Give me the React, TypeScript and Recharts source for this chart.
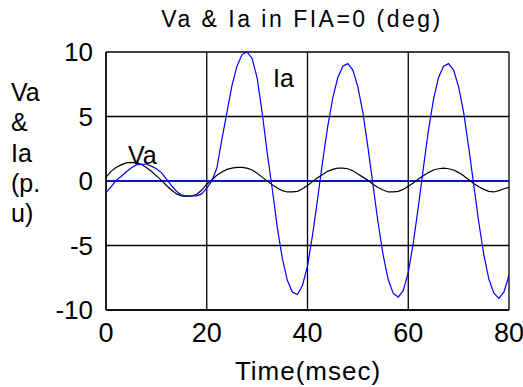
import React from 'react';
import { LineChart, Line, XAxis, YAxis, CartesianGrid, ReferenceLine } from 'recharts';

const TIME = [
  0, 1, 2, 3, 4, 5, 6, 7, 8, 9, 10, 11, 12, 13, 14, 15, 16, 17, 18, 19, 20,
  21, 22, 23, 24, 25, 26, 27, 28, 29, 30, 31, 32, 33, 34, 35, 36, 37, 38, 39, 40,
  41, 42, 43, 44, 45, 46, 47, 48, 49, 50, 51, 52, 53, 54, 55, 56, 57, 58, 59, 60,
  61, 62, 63, 64, 65, 66, 67, 68, 69, 70, 71, 72, 73, 74, 75, 76, 77, 78, 79, 80,
];

const VA = [
  0.3, 0.75, 1.05, 1.25, 1.4, 1.45, 1.4, 1.3, 1.05, 0.75, 0.4, 0.05, -0.35, -0.7, -1.0, -1.15, -1.2, -1.15, -1.05, -0.7, -0.25,
  0.1, 0.45, 0.7, 0.9, 1.0, 1.05, 1.05, 1.0, 0.85, 0.6, 0.3, 0.0, -0.3, -0.55, -0.75, -0.85, -0.85, -0.8, -0.6, -0.35,
  -0.05, 0.25, 0.5, 0.75, 0.9, 1.0, 1.0, 0.95, 0.8, 0.55, 0.3, 0.05, -0.25, -0.5, -0.7, -0.85, -0.85, -0.8, -0.65, -0.4,
  -0.15, 0.15, 0.4, 0.65, 0.85, 0.95, 1.0, 0.95, 0.85, 0.65, 0.4, 0.1, -0.2, -0.45, -0.65, -0.8, -0.85, -0.75, -0.6, -0.5,
];

const IA = [
  -0.9, -0.45, 0.05, 0.35, 0.7, 1.0, 1.25, 1.3, 1.3, 1.15, 0.95, 0.65, 0.15, -0.35, -0.8, -1.1, -1.15, -1.15, -1.15, -1.0, -0.55,
  0.0, 1.0, 3.2, 5.3, 7.4, 8.9, 9.8, 10.0, 9.5, 8.0, 5.3, 2.2, -0.6, -3.6, -6.0, -7.7, -8.6, -8.8, -8.1, -6.6,
  -4.2, -1.4, 1.5, 4.2, 6.4, 8.0, 8.9, 9.1, 8.6, 7.3, 5.3, 2.6, -0.3, -3.2, -5.7, -7.6, -8.7, -9.0, -8.5, -7.1,
  -4.8, -2.0, 1.0, 3.9, 6.3, 8.0, 8.9, 9.1, 8.6, 7.3, 5.3, 2.6, -0.3, -3.2, -5.7, -7.6, -8.7, -9.1, -8.6, -7.3,
];

const X_TICKS = [0, 20, 40, 60, 80];
const Y_TICKS = [-10, -5, 0, 5, 10];
const TITLE = 'Va & Ia in FIA=0 (deg)';
const X_LABEL = 'Time(msec)';
const Y_LABEL_LINES = ['Va', '&', 'Ia', '(p.', 'u)'];
const VA_NAME = 'Va';
const IA_NAME = 'Ia';

const data = TIME.map((t, i) => ({ t, va: VA[i], ia: IA[i] }));

const FONT = '"Liberation Sans", Arial, Helvetica, sans-serif';

export default function App() {
  return (
    <div style={{ position: 'absolute', left: 0, top: 0, width: 523, height: 387, background: '#fff' }}>
      <LineChart
        width={523}
        height={387}
        data={data}
        margin={{ top: 52, right: 14, bottom: 47, left: 46 }}
      >
        <CartesianGrid stroke="#000" strokeWidth={1.3} strokeOpacity={1} />
        <XAxis
          dataKey="t"
          type="number"
          domain={[0, 80]}
          ticks={X_TICKS}
          height={30}
          tickLine={false}
          tickMargin={7}
          axisLine={{ stroke: '#000', strokeWidth: 1.3 }}
          tick={{ fontSize: 27, fill: '#000', fontFamily: FONT }}
          allowDataOverflow
        />
        <YAxis
          type="number"
          domain={[-10, 10]}
          ticks={Y_TICKS}
          width={60}
          tickLine={false}
          tickMargin={7}
          axisLine={{ stroke: '#000', strokeWidth: 1.3 }}
          tick={{ fontSize: 26, fill: '#000', fontFamily: FONT }}
          allowDataOverflow
        />
        <ReferenceLine y={0} stroke="#0000ff" strokeWidth={1.3} />
        <Line
          dataKey="va"
          stroke="#000"
          strokeWidth={1.2}
          dot={false}
          isAnimationActive={false}
          type="linear"
        />
        <Line
          dataKey="ia"
          stroke="#0000ff"
          strokeWidth={1.2}
          dot={false}
          isAnimationActive={false}
          type="linear"
        />
      </LineChart>
      <svg
        width={523}
        height={387}
        style={{ position: 'absolute', left: 0, top: 0, pointerEvents: 'none' }}
      >
        <text x={302} y={27} textAnchor="middle" fontSize={23} letterSpacing={2.5} fontFamily={FONT} fill="#000">
          {TITLE}
        </text>
        <text x={308} y={380} textAnchor="middle" fontSize={26} letterSpacing={1} fontFamily={FONT} fill="#000">
          {X_LABEL}
        </text>
        {Y_LABEL_LINES.map((s, i) => (
          <text key={s} x={11} y={101 + i * 30.3} fontSize={25} fontFamily={FONT} fill="#000">
            {s}
          </text>
        ))}
        <text x={128} y={164} fontSize={25} fontFamily={FONT} fill="#000">
          {VA_NAME}
        </text>
        <text x={273} y={87} fontSize={25} fontFamily={FONT} fill="#000">
          {IA_NAME}
        </text>
      </svg>
    </div>
  );
}
